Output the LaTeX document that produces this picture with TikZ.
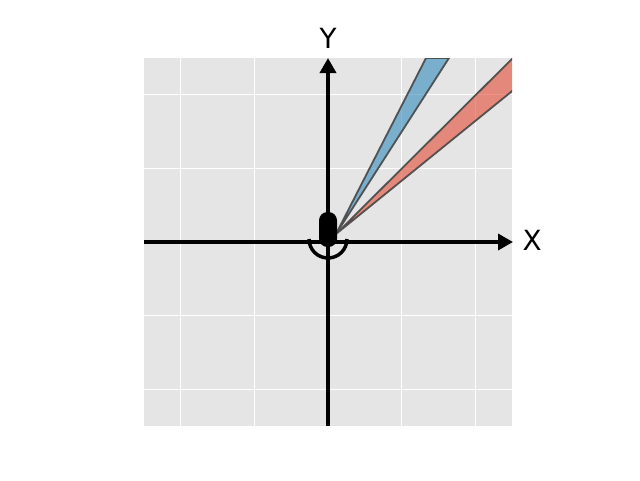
\documentclass[tikz,border=0pt]{standalone}
\usepackage{fontspec}
\setmainfont{DejaVu Sans}
\usetikzlibrary{arrows.meta}
\definecolor{panel}{HTML}{E5E5E5}
\definecolor{ggred}{HTML}{E24A33}
\definecolor{ggblue}{HTML}{348ABD}
\definecolor{edgegray}{RGB}{70,70,70}
\tikzset{
  axisline/.style={line width=3.5pt, -{Triangle[length=15pt,width=16pt]}},
  gridline/.style={white, line width=1pt},
  wedge/.style={draw=edgegray, line width=1.8pt, line join=round, fill opacity=0.6, draw opacity=0.9},
  axlabel/.style={font=\fontsize{27.8}{30}\selectfont, inner sep=0pt},
}
\begin{document}
\begin{tikzpicture}[x=1pt,y=-1pt]
\useasboundingbox (0,0) rectangle (640,480);
% panel
\fill[panel] (144,58) rectangle (512,426);
\foreach \g in {-2,-1,1,2}{
  \draw[gridline] ({328+73.6*\g},58) -- ({328+73.6*\g},426);
  \draw[gridline] (144,{242+73.6*\g}) -- (512,{242+73.6*\g});
}
% wedges
\begin{scope}
  \clip (144,58) rectangle (512,426);
  \coordinate (apex) at (336,234);
  \filldraw[wedge, fill=ggblue] (apex) -- (426,58) -- (449,58) -- cycle;
  \filldraw[wedge, fill=ggred] (apex) -- (536,35) -- (536,71.7) -- cycle;
\end{scope}
% axes
\coordinate (xs) at (144,242);
\coordinate (xe) at (513,242);
\coordinate (ys) at (328,426);
\coordinate (ye) at (328,58);
\draw[axisline] (xs) -- (xe);
\draw[axisline] (ys) -- (ye);
% vehicle
\node[fill=black, rounded corners=8.5pt, minimum width=18pt, minimum height=35pt, inner sep=0pt] (car) at (328,229.5) {};
\draw[line width=3.5pt] (309,239) arc[start angle=180, end angle=360, radius=19pt];
\coordinate (t1) at (328,256);
\coordinate (t2) at (328,268);
\draw[line width=4pt] (t1) -- (t2);
% labels
\node[axlabel, anchor=base] (ylab) at (328,48) {Y};
\node[axlabel, anchor=base west] (xlab) at (522.5,250) {X};
\end{tikzpicture}
\end{document}
